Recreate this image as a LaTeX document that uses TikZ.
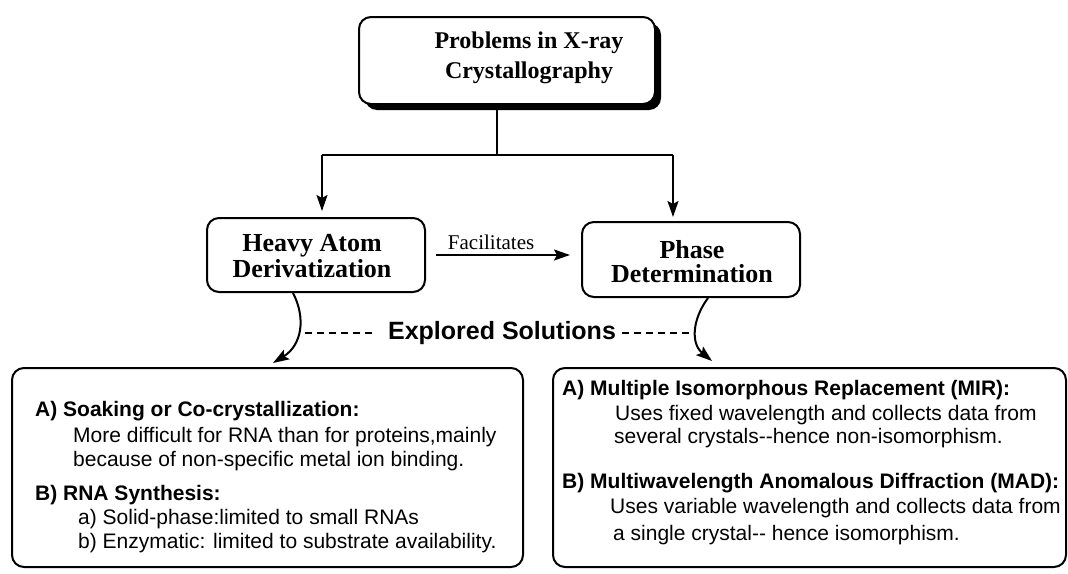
\documentclass[tikz,border=0pt]{standalone}
\usepackage{fontspec}
\setmainfont{Liberation Serif}
\newfontfamily\arialf{Liberation Sans}
\usetikzlibrary{arrows.meta,shadows}
\begin{document}
\begin{tikzpicture}[x=1pt,y=-1pt,
  box/.style={draw,line width=2pt,rounded corners=12pt,fill=white,inner sep=0pt},
  titlebox/.style={box,drop shadow={shadow xshift=6pt,shadow yshift=-6pt,fill=black,opacity=1}},
  serifb/.style={font=\fontsize{26}{28}\selectfont\bfseries,anchor=base,inner sep=0pt},
  body/.style={font=\arialf\fontsize{21}{25}\selectfont,anchor=base west,inner sep=0pt},
  bodyb/.style={font=\arialf\fontsize{21}{25}\selectfont\bfseries,anchor=base west,inner sep=0pt},
  conn/.style={line width=2pt},
  arr/.style={line width=2pt,-{Stealth[length=16pt,width=11pt,inset=3pt]}},
  dashline/.style={line width=1.6pt,dash pattern=on 7pt off 5pt}
]
\useasboundingbox (0,0) rectangle (1068,573);

% top
\node[titlebox,minimum width=296pt,minimum height=87pt] (top) at (507,60.5) {};
\node[serifb,font=\fontsize{24}{28}\selectfont\bfseries] (t1) at (529,48) {Problems in X-ray};
\node[serifb,font=\fontsize{24}{28}\selectfont\bfseries] (t2) at (529,78) {Crystallography};

% middle boxes
\node[box,minimum width=218pt,minimum height=74pt] (heavy) at (316,255) {};
\node[serifb] (h1) at (312,251) {Heavy Atom};
\node[serifb] (h2) at (312,277) {Derivatization};
\node[box,minimum width=218pt,minimum height=75pt] (phase) at (691,259.5) {};
\node[serifb] (p1) at (692,258) {Phase};
\node[serifb] (p2) at (692,282) {Determination};

% tree connectors
\coordinate (jl) at (322,155);
\coordinate (jr) at (673,155);
\draw[conn] ([xshift=-10pt]top.south) -- ([xshift=-10pt]top.south |- jl);
\draw[conn] (jl) -- (jr);
\draw[arr,shorten >=6pt] (jl) -- (jl |- heavy.north);
\draw[arr,shorten >=4pt] (jr) -- (jr |- phase.north);

% facilitates
\draw[arr,shorten <=10pt,shorten >=11pt] (heavy.east) -- (heavy.east -| phase.west)
  node[pos=0.42,above=2pt,font=\fontsize{21}{22}\selectfont,inner sep=2pt] (fac) {Facilitates};

% bottom boxes
\node[box,minimum width=511pt,minimum height=199pt] (left) at (267.5,467.5) {};
\node[box,minimum width=513pt,minimum height=199pt] (right) at (809.5,467.5) {};

% explored solutions
\node[font=\arialf\fontsize{25}{28}\selectfont\bfseries,inner sep=0pt,anchor=base] (expl) at (502,339) {Explored Solutions};
\coordinate (dl1) at (305,333);
\coordinate (dl2) at (376,333);
\coordinate (dr1) at (622,333);
\coordinate (dr2) at (694,333);
\draw[dashline] (dl1) -- (dl2);
\draw[dashline] (dr1) -- (dr2);

% curved arrows
\coordinate (la) at (273,363);
\coordinate (ra) at (712,361);
\draw[arr] ([xshift=-23pt]heavy.south) .. controls (306,318) and (302,345) .. (la);
\draw[arr] ([xshift=17pt]phase.south) .. controls (693,318) and (690,343) .. (ra);

% left box text
\node[bodyb] (la1) at (35,416) {A) Soaking or Co-crystallization:};
\node[body] (la2) at (73,442) {More difficult for RNA than for proteins,mainly};
\node[body] (la3) at (73,466) {because of non-specific metal ion binding.};
\node[bodyb] (lb1) at (35,500) {B) RNA Synthesis:};
\node[body] (lb2) at (78,524) {a) Solid-phase:limited to small RNAs};
\node[body] (lb3) at (78,548) {b) Enzymatic: limited to substrate availability.};

% right box text
\node[bodyb] (ra1) at (562,395) {A) Multiple Isomorphous Replacement (MIR):};
\node[body] (ra2) at (615,420) {Uses fixed wavelength and collects data from};
\node[body] (ra3) at (614,443) {several crystals--hence non-isomorphism.};
\node[bodyb] (rb1) at (562,488) {B) Multiwavelength Anomalous Diffraction (MAD):};
\node[body] (rb2) at (610,513) {Uses variable wavelength and collects data from};
\node[body] (rb3) at (613,540) {a single crystal-- hence isomorphism.};
\end{tikzpicture}
\end{document}
